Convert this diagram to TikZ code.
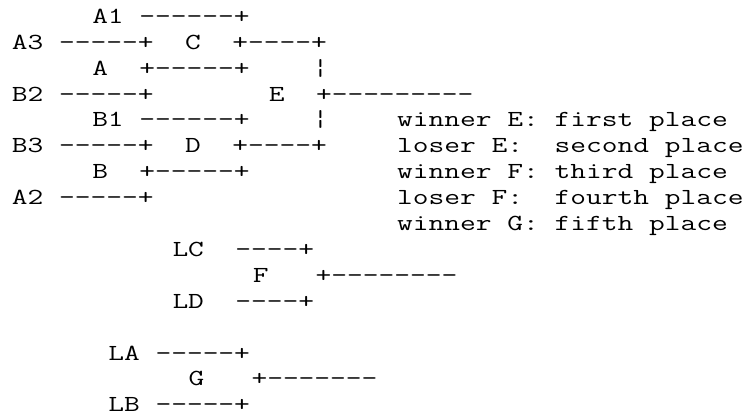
\documentclass[tikz,border=0pt]{standalone}
\usepackage{fontspec}
\usepackage{graphicx}
\newcommand\stretchtxt[1]{\scalebox{1.329}[1]{#1}}
\begin{document}
\begin{tikzpicture}[x=1pt,y=-1pt,
  txt/.style={anchor=base west, inner sep=0pt, outer sep=0pt,
    font=\ttfamily\fontsize{23pt}{27pt}\selectfont, text=black}]
\def\cw{16.05}\def\xo{12}\def\lh{25.9}\def\yo{23.3}
\fill[white] (0,0) rectangle (751,418);
\useasboundingbox (0,0) rectangle (751,418);
% bracket, left part
\node[txt] (l1)  at ({\xo+5*\cw},{\yo+0*\lh})  {\stretchtxt{A1 ------+}};
\node[txt] (l2)  at ({\xo+0*\cw},{\yo+1*\lh})  {\stretchtxt{A3 -----+\ \ C\ \ +----+}};
\node[txt] (l3)  at ({\xo+5*\cw},{\yo+2*\lh})  {\stretchtxt{A\ \ +-----+\ \ \ \ ¦}};
\node[txt] (l4)  at ({\xo+0*\cw},{\yo+3*\lh})  {\stretchtxt{B2 -----+}};
\node[txt] (l4b) at ({\xo+16*\cw},{\yo+3*\lh}) {\stretchtxt{E\ \ +---------}};
\node[txt] (l5)  at ({\xo+5*\cw},{\yo+4*\lh})  {\stretchtxt{B1 ------+\ \ \ \ ¦}};
\node[txt] (l6)  at ({\xo+0*\cw},{\yo+5*\lh})  {\stretchtxt{B3 -----+\ \ D\ \ +----+}};
\node[txt] (l7)  at ({\xo+5*\cw},{\yo+6*\lh})  {\stretchtxt{B\ \ +-----+}};
\node[txt] (l8)  at ({\xo+0*\cw},{\yo+7*\lh})  {\stretchtxt{A2 -----+}};
% legend
\node[txt] (r5)  at ({\xo+24*\cw},{\yo+4*\lh}) {\stretchtxt{winner E: first place}};
\node[txt] (r6)  at ({\xo+24*\cw},{\yo+5*\lh}) {\stretchtxt{loser E:\ \ second place}};
\node[txt] (r7)  at ({\xo+24*\cw},{\yo+6*\lh}) {\stretchtxt{winner F: third place}};
\node[txt] (r8)  at ({\xo+24*\cw},{\yo+7*\lh}) {\stretchtxt{loser F:\ \ fourth place}};
\node[txt] (r9)  at ({\xo+24*\cw},{\yo+8*\lh}) {\stretchtxt{winner G: fifth place}};
% match F
\node[txt] (l10) at ({\xo+10*\cw},{\yo+9*\lh})  {\stretchtxt{LC\ \ ----+}};
\node[txt] (l11) at ({\xo+15*\cw},{\yo+10*\lh}) {\stretchtxt{F\ \ \ +--------}};
\node[txt] (l12) at ({\xo+10*\cw},{\yo+11*\lh}) {\stretchtxt{LD\ \ ----+}};
% match G
\node[txt] (l14) at ({\xo+6*\cw},{\yo+13*\lh})  {\stretchtxt{LA -----+}};
\node[txt] (l15) at ({\xo+11*\cw},{\yo+14*\lh}) {\stretchtxt{G\ \ \ +-------}};
\node[txt] (l16) at ({\xo+6*\cw},{\yo+15*\lh})  {\stretchtxt{LB -----+}};
\end{tikzpicture}
\end{document}
